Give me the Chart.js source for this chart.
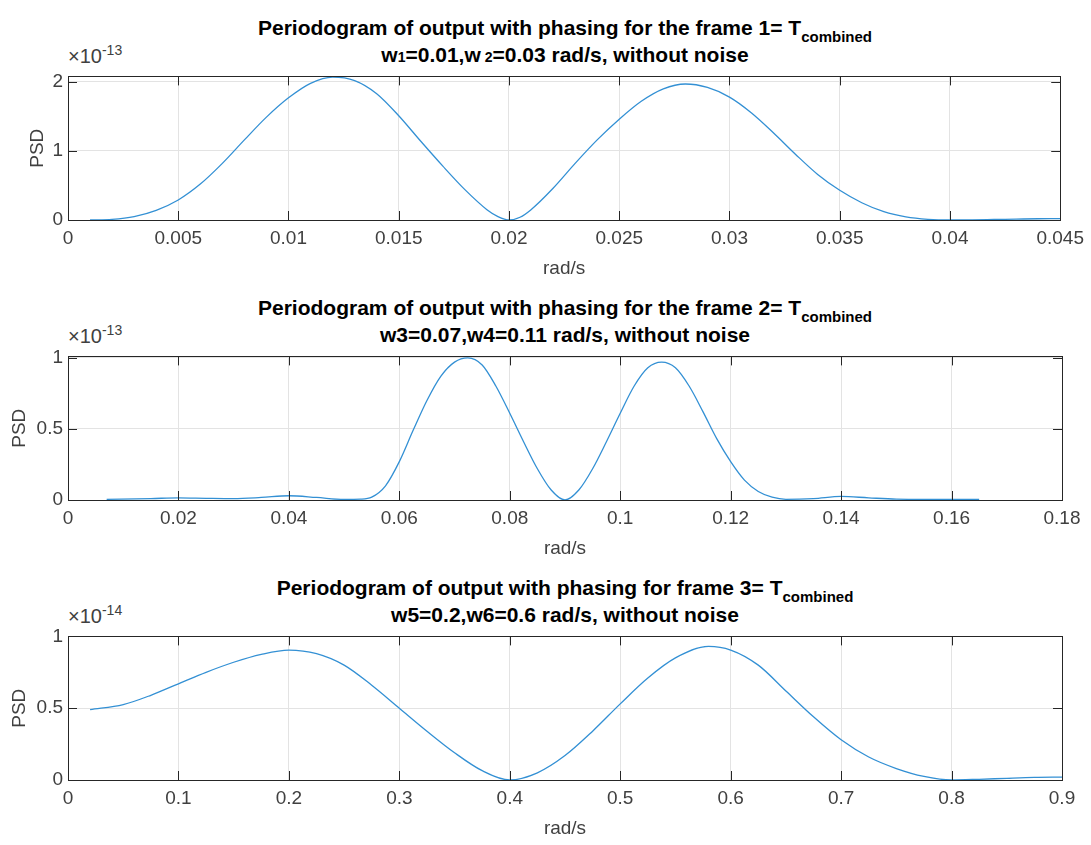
<!DOCTYPE html>
<html>
<head>
<meta charset="utf-8">
<script src="https://cdn.jsdelivr.net/npm/chart.js@4/dist/chart.umd.min.js"></script>
<style>
  body { margin: 0; background: #fff; width: 1091px; height: 845px; position: relative; overflow: hidden;
         font-family: "Liberation Sans", Arial, sans-serif; }
  .title { position: absolute; left: 0; width: 1130px; text-align: center; font-weight: bold; font-size: 21px;
           line-height: 24px; color: #000; white-space: nowrap; }
  .title sub { font-size: 15px; vertical-align: -7px; line-height: 0; }
  .small { font-size: 14px; }
  .expo { position: absolute; left: 68px; font-size: 20px; color: #404040; line-height: 20px; }
  .expo sup { font-size: 14px; vertical-align: 8px; line-height: 0; }
  .box { position: absolute; left: 0; width: 1091px; height: 220px; }
</style>
</head>
<body>
<div class="title" style="top:16px">Periodogram of output with phasing for the frame 1= T<sub>combined</sub></div>
<div class="title" style="top:43px">w<span class="small">1</span>=0.01,w<span class="small"> 2</span>=0.03 rad/s, without noise</div>
<div class="expo" style="top:46px">×10<sup>-13</sup></div>
<div class="box" style="top:60px"><canvas id="c1"></canvas></div>

<div class="title" style="top:296px">Periodogram of output with phasing for the frame 2= T<sub>combined</sub></div>
<div class="title" style="top:323px">w3=0.07,w4=0.11 rad/s, without noise</div>
<div class="expo" style="top:326px">×10<sup>-13</sup></div>
<div class="box" style="top:340px"><canvas id="c2"></canvas></div>

<div class="title" style="top:576px">Periodogram of output with phasing for frame 3= T<sub>combined</sub></div>
<div class="title" style="top:603px">w5=0.2,w6=0.6 rad/s, without noise</div>
<div class="expo" style="top:606px">×10<sup>-14</sup></div>
<div class="box" style="top:620px"><canvas id="c3"></canvas></div>

<script>
// frame 1 (PSD x 1e-13)
var freq1 = [0.001,0.002,0.003,0.004,0.005,0.006,0.007,0.008,0.009,0.010,0.011,0.012,0.013,0.014,0.015,0.016,0.017,0.018,0.019,0.0195,0.020,
             0.0205,0.021,0.022,0.023,0.024,0.025,0.026,0.027,0.028,0.029,0.030,0.031,0.032,0.033,0.034,0.035,0.036,0.037,0.038,0.039,0.040,
             0.041,0.042,0.043,0.044,0.045];
var psd1 = [0,0.01,0.05,0.14,0.29,0.52,0.82,1.16,1.49,1.77,1.98,2.07,2.02,1.83,1.51,1.14,0.78,0.44,0.15,0.05,0,
            0.04,0.15,0.46,0.82,1.16,1.46,1.72,1.9,1.97,1.92,1.78,1.55,1.26,0.95,0.66,0.43,0.25,0.12,0.045,0.01,0,
            0.003,0.008,0.013,0.018,0.02];
var xTicks1 = [0,0.005,0.01,0.015,0.02,0.025,0.03,0.035,0.04,0.045];
var yTicks1 = [0,1,2];

// frame 2 (PSD x 1e-13)
var freq2 = [0.007,0.015,0.02,0.025,0.03,0.035,0.04,0.045,0.05,0.053,0.055,0.0575,0.06,0.0625,0.065,0.0675,0.07,0.0724,0.075,0.0775,0.08,0.0825,
             0.085,0.0875,0.09,0.0925,0.095,0.0975,0.1,0.1025,0.105,0.1075,0.11,0.1125,0.115,0.1175,0.12,0.1225,0.125,0.1275,0.13,
             0.135,0.14,0.145,0.15,0.155,0.16,0.165];
var psd2 = [0.005,0.01,0.015,0.012,0.01,0.018,0.03,0.018,0.004,0.006,0.02,0.1,0.27,0.49,0.7,0.87,0.97,1.0,0.95,0.8,0.61,0.41,
            0.22,0.07,0,0.07,0.22,0.41,0.61,0.8,0.93,0.97,0.93,0.8,0.62,0.43,0.27,0.14,0.06,0.02,0.005,
            0.01,0.025,0.015,0.006,0.004,0.005,0.005];
var xTicks2 = [0,0.02,0.04,0.06,0.08,0.1,0.12,0.14,0.16,0.18];
var yTicks2 = [0,0.5,1];

// frame 3 (PSD x 1e-14)
var freq3 = [0.02,0.05,0.075,0.1,0.125,0.15,0.175,0.2,0.225,0.25,0.275,0.3,0.325,0.35,0.375,0.4,0.425,0.45,0.475,0.5,0.525,0.55,0.58,
             0.6,0.625,0.65,0.675,0.7,0.725,0.75,0.775,0.8,0.825,0.85,0.875,0.9];
var psd3 = [0.49,0.525,0.59,0.67,0.75,0.82,0.875,0.905,0.88,0.8,0.66,0.5,0.34,0.19,0.065,0,0.05,0.17,0.34,0.53,0.71,0.85,0.93,
            0.905,0.8,0.62,0.44,0.28,0.16,0.08,0.025,0,0.005,0.012,0.018,0.02];
var xTicks3 = [0,0.1,0.2,0.3,0.4,0.5,0.6,0.7,0.8,0.9];
var yTicks3 = [0,0.5,1];

var FONT = "'Liberation Sans', Arial, sans-serif";
var GREY = "#262626";
var LABEL = "#404040";

// box + inward ticks like matlab
var boxPlugin = {
  id: "box",
  afterDraw: function (chart) {
    var a = chart.chartArea, ctx = chart.ctx;
    var xs = chart.scales.x, ys = chart.scales.y;
    ctx.save();
    ctx.strokeStyle = GREY;
    ctx.lineWidth = 1;
    ctx.beginPath();
    xs.ticks.forEach(function (t) {
      var px = Math.round(xs.getPixelForValue(t.value)) + 0.5;
      ctx.moveTo(px, a.bottom); ctx.lineTo(px, a.bottom - 9);
      ctx.moveTo(px, a.top); ctx.lineTo(px, a.top + 9);
    });
    ys.ticks.forEach(function (t) {
      var py = Math.round(ys.getPixelForValue(t.value)) + 0.5;
      ctx.moveTo(a.left, py); ctx.lineTo(a.left + 9, py);
      ctx.moveTo(a.right, py); ctx.lineTo(a.right - 9, py);
    });
    ctx.stroke();
    ctx.strokeRect(Math.round(a.left) + 0.5, Math.round(a.top) + 0.5, Math.round(a.right - a.left), Math.round(a.bottom - a.top));
    ctx.restore();
  }
};

// padLeft moves the PSD label, the plot area stays at x=68
function makeChart(id, xs, ys, xTicks, yTicks, xmax, ymax, padLeft) {
  var pts = xs.map(function (v, i) { return { x: v, y: ys[i] }; });
  return new Chart(document.getElementById(id), {
    type: "line",
    data: { datasets: [{ data: pts, borderColor: "#3390d4", borderWidth: 1.3, pointRadius: 0,
                         cubicInterpolationMode: "monotone", fill: false }] },
    options: {
      responsive: true, maintainAspectRatio: false, animation: false,
      layout: { padding: { top: 10, right: 29, left: padLeft, bottom: 0 } },
      plugins: { legend: { display: false }, tooltip: { enabled: false } },
      scales: {
        x: {
          type: "linear", min: 0, max: xmax,
          afterBuildTicks: function (s) { s.ticks = xTicks.map(function (v) { return { value: v }; }); },
          afterFit: function (s) { s.height = 60; },
          grid: { color: "#e3e3e3", drawTicks: false },
          border: { display: false },
          ticks: { color: LABEL, font: { family: FONT, size: 19 }, padding: 7, maxRotation: 0, autoSkip: false,
                   callback: function (v) { return String(parseFloat(v.toFixed(4))); } },
          title: { display: true, text: "rad/s", color: LABEL, font: { family: FONT, size: 19 }, padding: { top: 1, bottom: 0 } }
        },
        y: {
          min: 0, max: ymax,
          afterBuildTicks: function (s) { s.ticks = yTicks.map(function (v) { return { value: v }; }); },
          afterFit: function (s) { s.width = 68 - padLeft; },
          grid: { color: "#e3e3e3", drawTicks: false },
          border: { display: false },
          ticks: { color: LABEL, font: { family: FONT, size: 19 }, padding: 5,
                   callback: function (v) { return String(v); } },
          title: { display: true, text: "PSD", color: LABEL, font: { family: FONT, size: 19 }, padding: { top: 0, bottom: 0 } }
        }
      }
    },
    plugins: [boxPlugin]
  });
}

makeChart("c1", freq1, psd1, xTicks1, yTicks1, 0.045, 2.08, 26);
makeChart("c2", freq2, psd2, xTicks2, yTicks2, 0.18, 1.01, 8);
makeChart("c3", freq3, psd3, xTicks3, yTicks3, 0.9, 1.0, 8);
</script>
</body>
</html>
